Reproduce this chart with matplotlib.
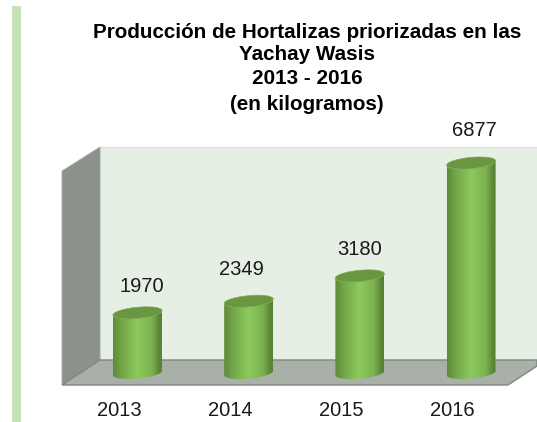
import numpy as np
import matplotlib
matplotlib.use("Agg")
import matplotlib.pyplot as plt
from matplotlib.patches import Polygon, PathPatch
from matplotlib.path import Path
from matplotlib.colors import LinearSegmentedColormap

years = ["2013", "2014", "2015", "2016"]
values = [1970, 2349, 3180, 6877]
title_lines = ["Producción de Hortalizas priorizadas en las", "Yachay Wasis", "2013 - 2016", "(en kilogramos)"]

W, H = 537, 422
PX_PER_UNIT = 210 / 6877
BASE_Y = 373
BAR_W = 49
BAR_LEFT0 = 113
BAR_STEP = 111.2
EH = 5.6      # half height of ellipse
TILT = 2.2    # half rise from left to right
label_dx = [4, -7, 0, 3]
label_dy = [26, 32, 26, 32]

plt.rcParams["font.family"] = ["Liberation Sans", "DejaVu Sans"]
fig = plt.figure(figsize=(W / 100, H / 100), dpi=100)
ax = fig.add_axes([0, 0, 1, 1])
ax.set_xlim(0, W)
ax.set_ylim(H, 0)
ax.axis("off")

# side strip
ax.add_patch(Polygon([(12, 6), (21, 6), (21, 422), (12, 422)], fc="#c8e2b8", ec="none"))
# walls
ax.add_patch(Polygon([(100, 147), (537, 147), (537, 360), (100, 360)], fc="#e5efe4", ec="#d8dfd8", lw=0.8))
ax.add_patch(Polygon([(62, 171), (100, 147), (100, 360), (62, 385)], fc="#8b928c", ec="#a8aea8", lw=0.6))
ax.add_patch(Polygon([(100, 360), (537, 360), (537, 366), (508, 385), (62, 385)], fc="#a8b0a8", ec="#7f8781", lw=1.0))

cmap = LinearSegmentedColormap.from_list("cyl", [(0, "#5d8a38"), (0.18, "#74a64a"), (0.5, "#8dca5e"),
                                                  (0.8, "#7bb04e"), (0.95, "#5b8536"), (1, "#55803a")])


def ellipse_pts(cx, cy, n=80, start=0, stop=2 * np.pi):
    t = np.linspace(start, stop, n)
    return np.column_stack([cx + BAR_W / 2 * np.cos(t), cy + EH * np.sin(t) - TILT * np.cos(t)])


for i, (yr, v) in enumerate(zip(years, values)):
    left = BAR_LEFT0 + i * BAR_STEP
    cx = left + BAR_W / 2
    top = BASE_Y - v * PX_PER_UNIT
    bottom = BASE_Y
    lower = ellipse_pts(cx, bottom, start=0, stop=np.pi)       # right -> left along the front
    upper = ellipse_pts(cx, top, start=np.pi, stop=0)          # left -> right (front side)
    verts = np.vstack([upper, lower, upper[:1]])
    body = Path(verts)
    grad = np.linspace(0, 1, 200).reshape(1, -1)
    im = ax.imshow(grad, cmap=cmap, extent=(left, left + BAR_W, bottom + 8, top - 8),
                   aspect="auto", zorder=3, interpolation="bilinear")
    im.set_clip_path(PathPatch(body, transform=ax.transData))
    # top cap
    ax.add_patch(Polygon(ellipse_pts(cx, top), fc="#6b9641", ec="#7ba84e", lw=0.5, zorder=4))
    ax.text(cx + label_dx[i], top - label_dy[i], str(v), ha="center", va="center",
            fontsize=14.5, color="#1a1a1a", zorder=5)
    ax.text(cx - 18.5, 410, yr, ha="center", va="center", fontsize=14.5, color="#1a1a1a", zorder=5)

ax.set_xlim(0, W)
ax.set_ylim(H, 0)

for line, y in zip(title_lines, [32, 55, 79, 105]):
    ax.text(307, y, line, ha="center", va="center", fontsize=14.9, fontweight="bold", color="#000000")

fig.savefig("out.png", dpi=100)
